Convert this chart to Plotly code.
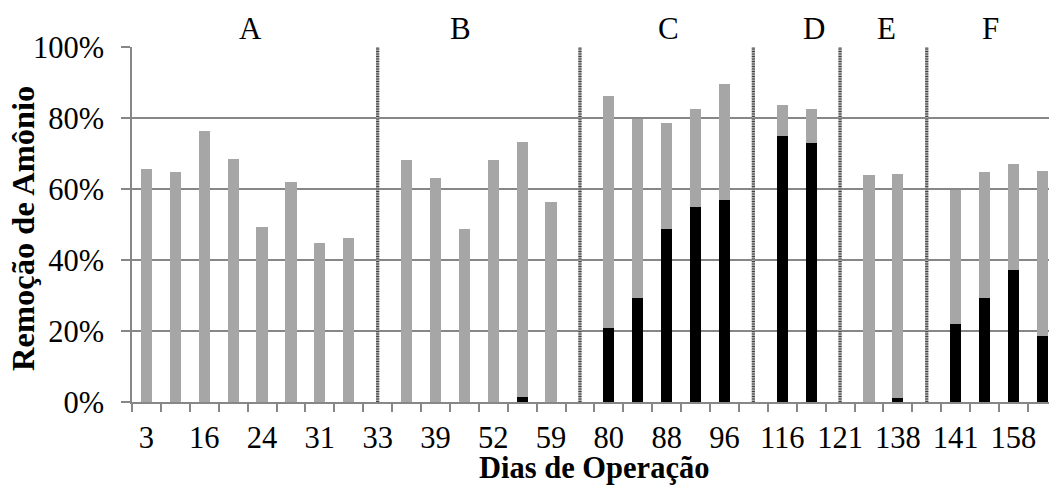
import plotly.graph_objects as go

# Ammonium removal per sampling day (%); None marks the gap between phases
remocao_total = [65.6, 64.8, 76.4, 68.4, 49.4, 62.1, 44.9, 46.3, None,
                 68.2, 63.1, 48.7, 68.2, 73.2, 56.4, None,
                 86.2, 79.8, 78.6, 82.6, 89.5, None,
                 83.8, 82.4, None,
                 63.9, 64.3, None,
                 59.8, 64.9, 67.1, 65.1]
remocao_parcial = [0, 0, 0, 0, 0, 0, 0, 0, None,
                   0, 0, 0, 0, 1.3, 0, None,
                   20.8, 29.4, 48.8, 54.8, 56.8, None,
                   75.0, 72.9, None,
                   0, 1.2, None,
                   22.0, 29.4, 37.3, 18.6]

# Day labels shown on every second category
rotulo_pos = [0, 2, 4, 6, 8, 10, 12, 14, 16, 18, 20, 22, 24, 26, 28, 30]
rotulo_dias = ["3", "16", "24", "31", "33", "39", "52", "59", "80", "88",
               "96", "116", "121", "138", "141", "158"]

# Operating phases and where their names sit along the category axis
fases = ["A", "B", "C", "D", "E", "F"]
fase_pos = [3.6, 10.85, 18.05, 23.1, 25.6, 29.2]

n = len(remocao_total)
x = list(range(n))
cinza_val = [None if t is None else t - p for t, p in zip(remocao_total, remocao_parcial)]
separadores = [i for i, t in enumerate(remocao_total) if t is None]

FONTE = "Liberation Serif"
EIXO = "#878787"

fig = go.Figure()
fig.add_trace(go.Bar(x=x, y=remocao_parcial, marker=dict(color="#000000", line_width=0),
                     width=0.39, showlegend=False))
fig.add_trace(go.Bar(x=x, y=cinza_val, marker=dict(color="#a6a6a6", line_width=0),
                     width=0.39, showlegend=False))

# Phase dividers: textured vertical lines from 0 to 100 %
sx, sy = [], []
for s in separadores:
    sx += [s, s, None]
    sy += [0, 100, None]
fig.add_trace(go.Scatter(x=sx, y=sy, mode="lines", line=dict(color="#a8a8a8", width=3.2),
                         showlegend=False, hoverinfo="skip"))
fig.add_trace(go.Scatter(x=sx, y=sy, mode="lines",
                         line=dict(color="#444444", width=3.2, dash="1px,1.5px"),
                         showlegend=False, hoverinfo="skip"))

for nome, pos in zip(fases, fase_pos):
    fig.add_annotation(text=nome, x=pos, xref="x", y=1.0515, yref="paper",
                       xanchor="center", yanchor="middle", showarrow=False,
                       font=dict(family=FONTE, size=31, color="black"))

fig.add_annotation(text="<b>Dias de Operação</b>", x=15.5, xref="x", y=-0.186, yref="paper",
                   xanchor="center", yanchor="middle", showarrow=False,
                   font=dict(family=FONTE, size=30.5, color="black"))
fig.add_annotation(text="<b>Remoção de Amônio</b>", x=-0.119, xref="paper", y=0.49, yref="paper",
                   xanchor="center", yanchor="middle", textangle=-90, showarrow=False,
                   font=dict(family=FONTE, size=32.5, color="black"))

fig.update_layout(
    width=1049, height=486,
    margin=dict(l=132, r=0, t=47, b=84),
    barmode="stack",
    plot_bgcolor="white", paper_bgcolor="white",
    font=dict(family=FONTE, size=31, color="black"),
    xaxis=dict(
        range=[-0.5, 31.23], showgrid=False, zeroline=False,
        showline=True, linecolor=EIXO, linewidth=1.5,
        tickmode="array", tickvals=rotulo_pos, ticktext=rotulo_dias,
        ticks="outside", ticklen=8, tickcolor="rgba(0,0,0,0)",
        ticklabelstandoff=0,
        minor=dict(ticks="outside", ticklen=8, tickcolor=EIXO, tickwidth=1.5,
                   tickmode="linear", tick0=-0.5, dtick=1, showgrid=False),
        tickfont=dict(family=FONTE, size=30.5, color="black"),
    ),
    yaxis=dict(
        range=[0, 100], dtick=20, ticksuffix="%",
        showgrid=True, gridcolor=EIXO, gridwidth=1.5, zeroline=False,
        showline=True, linecolor=EIXO, linewidth=1.5,
        ticks="outside", ticklen=9, tickcolor=EIXO, tickwidth=1.5,
        ticklabelstandoff=11,
        tickfont=dict(family=FONTE, size=30.5, color="black"),
    ),
)

fig.write_html("out.html")
